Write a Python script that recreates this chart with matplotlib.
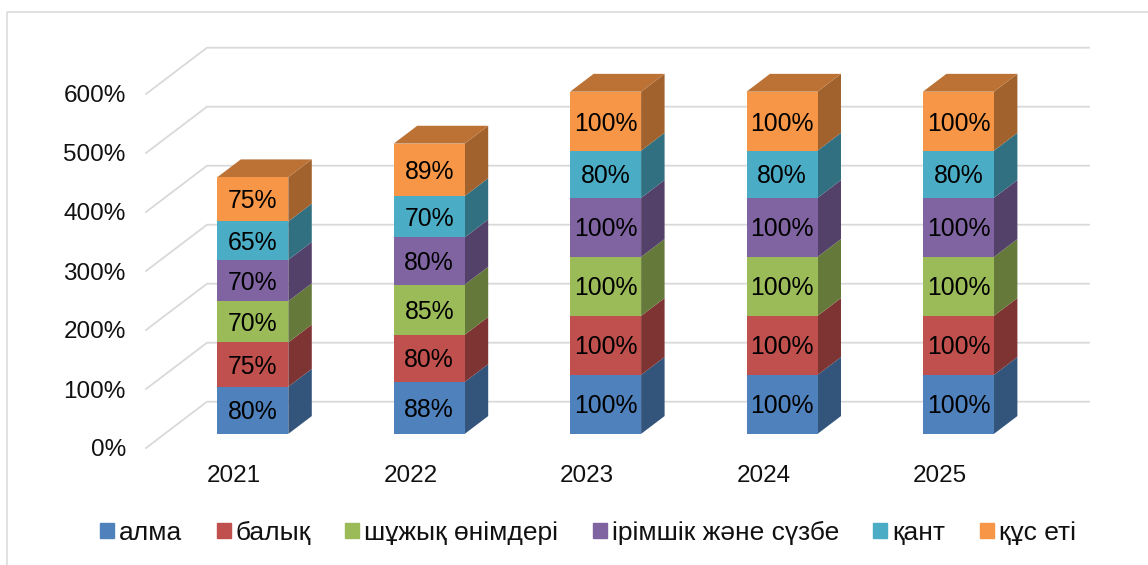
import numpy as np
import matplotlib
matplotlib.use('Agg')
import matplotlib.pyplot as plt
from matplotlib.patches import Patch

plt.rcParams['font.family'] = ['Liberation Sans', 'DejaVu Sans']

# values
years = ['2021', '2022', '2023', '2024', '2025']
alma = [80, 88, 100, 100, 100]
balyq = [75, 80, 100, 100, 100]
shuzhyq = [70, 85, 100, 100, 100]
irimshik = [70, 80, 100, 100, 100]
qant = [65, 70, 80, 80, 80]
qus_eti = [75, 89, 100, 100, 100]
y_ticks = [0, 100, 200, 300, 400, 500, 600]

series = [alma, balyq, shuzhyq, irimshik, qant, qus_eti]
names = ['алма', 'балық', 'шұжық өнімдері', 'ірімшік және сүзбе', 'қант', 'құс еті']
colors = ['#4F81BD', '#C0504D', '#9BBB59', '#8064A2', '#4BACC6', '#F79646']

W, H = 1148, 565
fig = plt.figure(figsize=(W / 100, H / 100), dpi=100)
ax = fig.add_axes([146 / W, (H - 448) / H, 882 / W, 354 / H])
ax.set_xlim(-0.5, 4.5)
ax.set_ylim(0, 600)
for s in ax.spines.values():
    s.set_visible(False)

# fake 3d depth, in data units
depth_x = 61 / 176.4
depth_y = 46.3 / 0.59
start = 0.305
bar_d = 0.385
bar_w = 0.4025

grid_col = '#D9D9D9'
for t in y_ticks:
    ax.plot([-0.5, -0.5 + depth_x, 4.5 + depth_x], [t, t + depth_y, t + depth_y],
            color=grid_col, lw=1.3, clip_on=False, zorder=1, solid_joinstyle='miter')

x = np.arange(len(years))
x0 = x + start * depth_x
base = np.full(len(years), start * depth_y)
dx = bar_d * depth_x
dy = bar_d * depth_y


def shade(col, k):
    return tuple(c * k for c in matplotlib.colors.to_rgb(col))


for vals, col in zip(series, colors):
    vals = np.array(vals, dtype=float)
    bars = ax.bar(x0, vals, width=bar_w, bottom=base, color=col, zorder=3, clip_on=False)
    for xi, b, v in zip(x0, base, vals):
        r = xi + bar_w / 2
        ax.fill([r, r + dx, r + dx, r], [b, b + dy, b + v + dy, b + v],
                color=shade(col, 0.65), lw=0, zorder=2.5, clip_on=False)
    anns = ax.bar_label(bars, labels=['%d%%' % v for v in vals], label_type='center',
                        fontsize=17.8, color='black', zorder=4)
    for a in anns:
        a.set_position((0, -1.5))
    base = base + vals

# top faces of the last series
for xi, b in zip(x0, base):
    l, r = xi - bar_w / 2, xi + bar_w / 2
    ax.fill([l, r, r + dx, l + dx], [b, b, b + dy, b + dy],
            color=shade(colors[-1], 0.76), lw=0, zorder=2.5, clip_on=False)

ax.set_xticks(x, years)
ax.set_yticks(y_ticks, ['%d%%' % t for t in y_ticks])
ax.tick_params(axis='both', length=0, labelsize=17.5, labelcolor='#111111')
ax.tick_params(axis='y', pad=14.5)
ax.tick_params(axis='x', pad=12.5)

handles = [Patch(color=c, label=n) for c, n in zip(colors, names)]
fig.legend(handles=handles, ncol=6, frameon=False, fontsize=19,
           loc='center', bbox_to_anchor=(588 / W, (H - 533) / H),
           handlelength=0.53, handleheight=0.53, handletextpad=0.19,
           columnspacing=1.3, labelcolor='#111111')

# chart frame
fig.add_artist(plt.Line2D([7 / W, 7 / W, 1], [0, (H - 11.5) / H, (H - 11.5) / H],
                          color=grid_col, lw=1.1, transform=fig.transFigure))

fig.savefig('out.png', dpi=100)
